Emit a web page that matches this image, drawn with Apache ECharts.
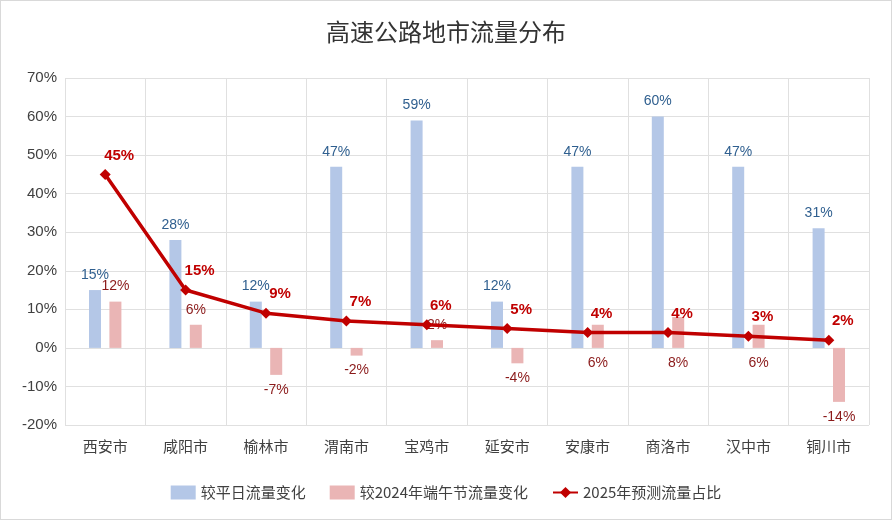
<!DOCTYPE html>
<html>
<head>
<meta charset="utf-8">
<script src="https://cdn.jsdelivr.net/npm/echarts@6/dist/echarts.min.js"></script>
<style>
html,body{margin:0;padding:0;background:#fff;}
#main{width:890px;height:518px;border:1px solid #d9d9d9;}
</style>
</head>
<body>
<div id="main"></div>
<script>
var cities = ['西安市','咸阳市','榆林市','渭南市','宝鸡市','延安市','安康市','商洛市','汉中市','铜川市'];
var dailyChange = [15, 28, 12, 47, 59, 12, 47, 60, 47, 31];
var festivalChange = [12, 6, -7, -2, 2, -4, 6, 8, 6, -14];
var shareForecast = [45, 15, 9, 7, 6, 5, 4, 4, 3, 2];
// 与折线重叠的几个标签放到零线下方
var festivalBelow = ['安康市','商洛市','汉中市'];

var myChart = echarts.init(document.getElementById('main'));

var festData = festivalChange.map(function(v, i){
    var pos = v < 0 ? 'bottom' : 'top';
    if (festivalBelow.indexOf(cities[i]) >= 0) pos = 'bottom';
    return {value: v, label: {position: pos}};
});

var option = {
    title: {
        text: '高速公路地市流量分布',
        left: 'center', top: 14,
        textStyle: {fontFamily: 'Noto Sans CJK SC', fontSize: 24, fontWeight: 'normal', color: '#333'}
    },
    legend: {
        bottom: 14,
        itemGap: 24,
        textStyle: {fontFamily: 'Noto Sans CJK SC', fontSize: 15, color: '#404040'},
        data: [
            {name: '较平日流量变化', icon: 'rect'},
            {name: '较2024年端午节流量变化', icon: 'rect'},
            {name: '2025年预测流量占比'}
        ]
    },
    grid: {left: 64, right: 22, top: 77, bottom: 94},
    xAxis: {
        type: 'category',
        data: cities,
        axisTick: {show: false},
        axisLine: {show: false},
        axisLabel: {fontFamily: 'Noto Sans CJK SC', fontSize: 15, color: '#404040', margin: 14},
        splitLine: {show: true, lineStyle: {color: '#e0e0e0'}}
    },
    yAxis: {
        type: 'value',
        min: -20, max: 70, interval: 10,
        axisLabel: {formatter: '{value}%', fontSize: 15, color: '#404040', fontFamily: 'Liberation Sans'},
        splitLine: {lineStyle: {color: '#e0e0e0'}}
    },
    series: [
        {
            name: '较平日流量变化',
            type: 'bar',
            data: dailyChange,
            barWidth: 12,
            barGap: '70%',
            itemStyle: {color: '#b4c7e7'},
            label: {show: true, position: 'top', formatter: '{c}%', color: '#2f5f8f', fontSize: 14, distance: 8}
        },
        {
            name: '较2024年端午节流量变化',
            type: 'bar',
            data: festData,
            barWidth: 12,
            itemStyle: {color: '#eab5b5'},
            label: {show: true, formatter: '{c}%', color: '#8b1a1a', fontSize: 14, distance: 8}
        },
        {
            name: '2025年预测流量占比',
            type: 'line',
            data: shareForecast,
            symbol: 'diamond',
            symbolSize: 11,
            lineStyle: {color: '#c00000', width: 3.5},
            itemStyle: {color: '#c00000'},
            label: {show: true, position: 'top', offset: [14, 0], distance: 6, formatter: '{c}%', color: '#c00000', fontSize: 15, fontWeight: 'bold'},
            z: 5
        }
    ]
};
myChart.setOption(option);
</script>
</body>
</html>
